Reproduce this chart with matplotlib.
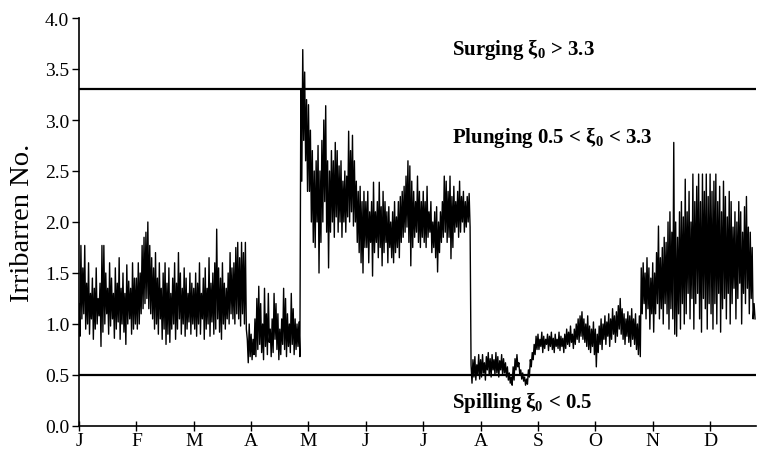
import numpy as np
import matplotlib
matplotlib.use("Agg")
import matplotlib.pyplot as plt

plt.rcParams['font.family'] = ['Liberation Serif', 'DejaVu Serif']
plt.rcParams['mathtext.fontset'] = 'custom'
plt.rcParams['mathtext.rm'] = 'Liberation Serif:bold'
plt.rcParams['mathtext.it'] = 'Liberation Serif:bold'
plt.rcParams['mathtext.bf'] = 'Liberation Serif:bold'

month_labels = ['J', 'F', 'M', 'A', 'M', 'J', 'J', 'A', 'S', 'O', 'N', 'D']

# Irribarren number: daily peaks (hi) and troughs (lo) per month
jan_hi = [1.20, 1.77, 1.55, 1.77, 1.40, 1.60, 1.30, 1.45, 1.35, 1.55, 1.25, 1.40, 1.77, 1.77, 1.50, 1.35, 1.60, 1.45, 1.30, 1.55, 1.40, 1.65, 1.35, 1.50, 1.30, 1.58, 1.42, 1.35, 1.60, 1.45]
jan_lo = [0.88, 1.05, 1.10, 0.95, 1.00, 0.90, 1.05, 0.85, 0.95, 1.00, 1.08, 0.78, 0.92, 1.00, 1.10, 0.90, 0.98, 1.05, 0.86, 0.95, 1.02, 0.85, 1.00, 0.92, 0.80, 1.00, 1.05, 0.90, 0.95, 1.00]
feb_hi = [1.45, 1.60, 1.50, 1.77, 1.85, 1.90, 2.00, 1.77, 1.65, 1.55, 1.70, 1.45, 1.60, 1.35, 1.50, 1.60, 1.40, 1.55, 1.30, 1.45, 1.60, 1.40, 1.70, 1.50, 1.35, 1.55, 1.45, 1.30, 1.50, 1.40]
feb_lo = [0.95, 1.00, 1.10, 1.15, 1.20, 1.25, 1.15, 1.10, 1.05, 0.95, 1.00, 0.90, 1.05, 0.85, 0.95, 0.80, 0.90, 0.82, 0.95, 1.00, 0.85, 0.95, 1.05, 0.90, 1.00, 0.88, 0.95, 1.02, 0.90, 1.00]
mar_hi = [1.35, 1.50, 1.40, 1.60, 1.30, 1.45, 1.55, 1.35, 1.65, 1.40, 1.50, 1.60, 1.93, 1.55, 1.45, 1.60, 1.40, 1.35, 1.50, 1.70, 1.55, 1.60, 1.75, 1.80, 1.65, 1.80, 1.70, 1.80, 0.85, 1.00]
mar_lo = [0.95, 0.88, 1.00, 0.90, 1.05, 0.85, 0.95, 1.00, 0.88, 1.02, 0.90, 0.95, 1.05, 0.92, 0.85, 1.00, 0.95, 1.05, 1.00, 1.10, 1.05, 1.00, 1.10, 1.05, 0.98, 1.10, 1.00, 0.95, 0.62, 0.68]
apr_hi = [0.90, 0.85, 1.05, 1.25, 1.37, 1.20, 1.00, 1.35, 1.10, 1.30, 0.95, 1.05, 1.30, 1.20, 1.10, 0.95, 1.05, 1.35, 1.25, 1.10, 1.00, 1.30, 1.15, 1.05, 1.00, 1.02, 3.30, 3.69, 3.47, 3.20]
apr_lo = [0.65, 0.70, 0.68, 0.75, 0.80, 0.72, 0.65, 0.78, 0.70, 0.82, 0.68, 0.72, 0.85, 0.75, 0.65, 0.70, 0.80, 0.75, 0.68, 0.78, 0.72, 0.80, 0.70, 0.75, 0.78, 0.68, 2.40, 2.80, 2.60, 2.30]
may_hi = [3.15, 2.90, 2.70, 2.50, 2.60, 2.75, 2.50, 2.80, 3.00, 3.14, 2.60, 2.50, 2.70, 2.60, 2.78, 2.70, 2.55, 2.60, 2.40, 2.50, 2.45, 2.89, 2.70, 2.85, 2.60, 2.40, 2.30, 2.35, 2.20, 2.30]
may_lo = [2.30, 2.00, 1.80, 1.75, 2.00, 1.50, 1.80, 2.00, 2.20, 1.90, 1.55, 1.90, 2.00, 1.85, 2.05, 1.90, 2.00, 1.85, 2.00, 1.90, 2.05, 2.00, 2.10, 1.96, 2.00, 1.80, 1.70, 1.60, 1.50, 1.75]
jun_hi = [2.20, 2.30, 2.10, 2.20, 2.39, 2.10, 2.20, 2.39, 2.15, 2.30, 2.20, 2.10, 2.15, 2.00, 2.10, 2.20, 2.05, 2.20, 2.25, 2.30, 2.35, 2.45, 2.60, 2.55, 2.40, 2.30, 2.20, 2.45, 2.30, 2.20]
jun_lo = [1.75, 1.60, 1.80, 1.47, 1.70, 1.80, 1.65, 1.75, 1.57, 1.70, 1.80, 1.60, 1.75, 1.65, 1.60, 1.70, 1.75, 1.65, 1.80, 1.85, 1.90, 1.95, 1.80, 1.57, 1.75, 1.85, 1.90, 1.80, 1.75, 1.85]
jul_hi = [2.30, 2.20, 2.35, 2.10, 2.20, 2.00, 2.10, 2.15, 2.00, 2.10, 2.20, 2.45, 2.40, 2.30, 2.45, 2.25, 2.35, 2.20, 2.30, 2.40, 2.25, 2.30, 2.20, 2.25, 2.28, 0.60, 0.65, 0.68, 0.60, 0.70]
jul_lo = [1.80, 1.75, 1.85, 1.90, 1.70, 1.75, 1.65, 1.51, 1.70, 1.80, 1.85, 1.90, 1.80, 1.85, 1.64, 1.75, 1.90, 1.95, 1.85, 1.90, 2.00, 1.90, 1.95, 2.00, 1.95, 0.42, 0.48, 0.45, 0.50, 0.46]
aug_hi = [0.65, 0.70, 0.62, 0.68, 0.72, 0.66, 0.70, 0.65, 0.72, 0.68, 0.64, 0.70, 0.66, 0.62, 0.58, 0.52, 0.48, 0.58, 0.66, 0.70, 0.62, 0.55, 0.52, 0.48, 0.46, 0.55, 0.65, 0.72, 0.80, 0.88]
aug_lo = [0.48, 0.52, 0.45, 0.55, 0.50, 0.48, 0.55, 0.50, 0.52, 0.48, 0.55, 0.50, 0.52, 0.48, 0.45, 0.42, 0.40, 0.45, 0.55, 0.58, 0.50, 0.46, 0.44, 0.40, 0.41, 0.48, 0.58, 0.65, 0.70, 0.75]
sep_hi = [0.90, 0.85, 0.92, 0.88, 0.85, 0.90, 0.88, 0.92, 0.86, 0.90, 0.85, 0.92, 0.88, 0.86, 0.90, 0.95, 0.92, 0.98, 0.90, 0.95, 1.00, 1.05, 1.08, 1.12, 1.05, 1.00, 1.08, 0.98, 0.95, 1.02]
sep_lo = [0.75, 0.78, 0.72, 0.76, 0.80, 0.74, 0.78, 0.75, 0.72, 0.78, 0.76, 0.74, 0.78, 0.72, 0.76, 0.80, 0.78, 0.82, 0.76, 0.80, 0.85, 0.82, 0.88, 0.85, 0.82, 0.78, 0.75, 0.72, 0.78, 0.70]
oct_hi = [0.95, 0.90, 0.98, 1.05, 1.00, 1.08, 1.02, 1.10, 1.05, 1.15, 1.08, 1.12, 1.18, 1.25, 1.15, 1.10, 1.05, 1.12, 1.08, 1.15, 1.05, 1.10, 1.00, 1.08, 1.55, 1.60, 1.50, 1.65, 1.55, 1.45]
oct_lo = [0.58, 0.72, 0.80, 0.75, 0.85, 0.80, 0.88, 0.78, 0.85, 0.90, 0.82, 0.88, 0.95, 0.90, 0.85, 0.80, 0.88, 0.82, 0.78, 0.85, 0.80, 0.75, 0.70, 0.68, 1.10, 1.20, 1.05, 1.15, 0.95, 1.10]
nov_hi = [1.60, 1.50, 1.70, 1.96, 1.65, 1.75, 1.85, 1.80, 2.00, 2.10, 1.90, 2.78, 2.00, 1.85, 2.10, 2.20, 2.05, 2.42, 2.10, 2.30, 2.00, 2.47, 2.20, 2.35, 2.47, 2.20, 2.47, 2.30, 2.47, 2.25]
nov_lo = [0.92, 1.10, 1.20, 1.05, 1.15, 1.00, 1.20, 1.10, 0.95, 1.15, 1.05, 0.90, 0.88, 1.10, 0.95, 1.20, 1.00, 1.10, 1.30, 1.05, 1.25, 0.95, 1.20, 1.30, 1.05, 0.92, 1.25, 1.15, 0.95, 1.20]
dec_hi = [2.47, 2.30, 2.40, 2.47, 2.20, 2.35, 2.10, 2.40, 2.25, 2.05, 2.30, 2.20, 1.95, 2.10, 2.00, 2.20, 2.10, 1.90, 2.15, 2.25, 1.95, 1.90, 1.75, 1.20]
dec_lo = [1.10, 0.95, 1.20, 1.00, 1.30, 0.92, 1.15, 1.25, 1.05, 1.30, 1.00, 1.20, 1.35, 1.05, 1.25, 1.40, 1.00, 1.30, 1.20, 1.35, 1.10, 1.25, 1.05, 1.05]

highs = [jan_hi, feb_hi, mar_hi, apr_hi, may_hi, jun_hi, jul_hi, aug_hi, sep_hi, oct_hi, nov_hi, dec_hi]
lows = [jan_lo, feb_lo, mar_lo, apr_lo, may_lo, jun_lo, jul_lo, aug_lo, sep_lo, oct_lo, nov_lo, dec_lo]
thresholds = [3.3, 0.5]
regime_labels = ['Surging $\\xi_0$ > 3.3', 'Plunging 0.5 < $\\xi_0$ < 3.3', 'Spilling $\\xi_0$ < 0.5']
regime_y = [3.7, 2.84, 0.245]

DAYS_PER_MONTH = 30
t = []
v = []
for m, (hi, lo) in enumerate(zip(highs, lows)):
    for i, (h, l) in enumerate(zip(hi, lo)):
        t.append(m + i / DAYS_PER_MONTH)
        v.append(h)
        t.append(m + (i + 0.5) / DAYS_PER_MONTH)
        v.append(l)

fig = plt.figure(figsize=(7.57, 4.56), dpi=100)
ax = fig.add_axes([79/757, 1 - 427/456, 677/757, 408/456])

ax.plot(t, v, color='black', lw=1.0)
for th in thresholds:
    ax.axhline(th, color='black', lw=1.6)

for lab, y in zip(regime_labels, regime_y):
    ax.text(6.5, y, lab, fontsize=15, fontweight='bold', va='center', ha='left')

ax.set_xlim(0, 11.8)
ax.set_ylim(0, 4.0)
ax.set_yticks(np.arange(0, 4.01, 0.5))
ax.set_yticklabels([f'{y:.1f}' for y in np.arange(0, 4.01, 0.5)])
ax.set_xticks(range(12))
ax.set_xticklabels(month_labels)
ax.tick_params(axis='y', direction='out', length=5, width=1, labelsize=14, pad=2)
ax.tick_params(axis='x', direction='inout', length=7, width=1, labelsize=14, pad=1)
ax.spines['top'].set_visible(False)
ax.spines['right'].set_visible(False)
ax.spines['left'].set_linewidth(1.2)
ax.spines['bottom'].set_linewidth(1.2)
ax.set_ylabel('Irribarren No.', fontsize=20.5, labelpad=7)

fig.savefig('out.png', dpi=100)
